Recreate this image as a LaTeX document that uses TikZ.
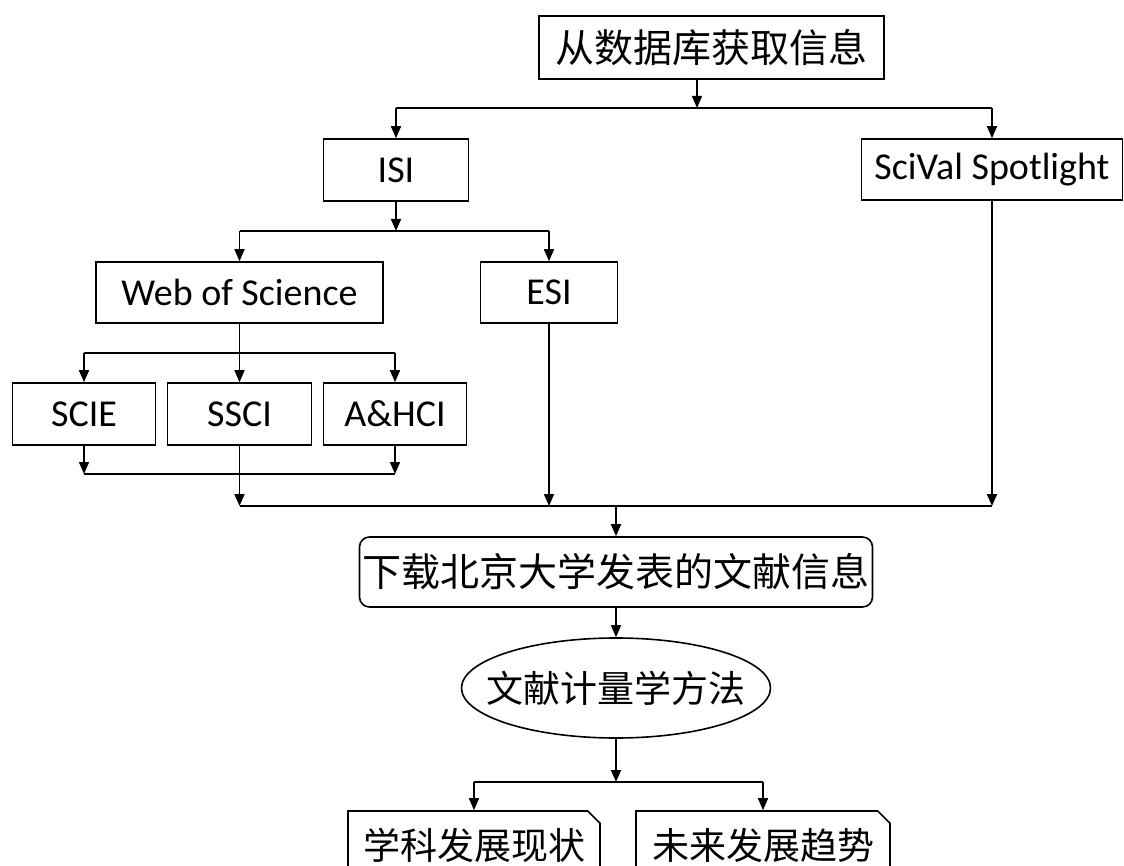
\documentclass[tikz,border=0pt]{standalone}
\usepackage{fontspec}
\setmainfont{Carlito}
\newfontfamily\cjk{Noto Sans CJK SC}
\usetikzlibrary{arrows.meta,shapes.geometric,shapes.misc,calc}
\begin{document}
\begin{tikzpicture}[x=1pt,y=-1pt,
  box/.style={draw,line width=1.6pt,inner sep=0pt,minimum height=61pt,font=\fontsize{38}{42}\selectfont},
  cbox/.style={box,font=\cjk\fontsize{39}{44}\selectfont},
  rbox/.style={cbox,rounded corners=10pt},
  ebox/.style={draw,ellipse,line width=1.6pt,inner sep=0pt,font=\cjk\fontsize{37}{42}\selectfont},
  snip/.style={draw,line width=1.6pt,chamfered rectangle,chamfered rectangle corners=north east,chamfered rectangle xsep=9pt,inner sep=0pt,font=\cjk\fontsize{37}{42}\selectfont},
  arr/.style={line width=1.6pt,-{Triangle[length=12pt,width=10pt]}},
  ln/.style={line width=1.6pt}]
\useasboundingbox (0,0) rectangle (1124,866);
\clip (0,0) rectangle (1124,866);
% nodes
\node[cbox,minimum width=345pt,minimum height=63pt] (top) at (711.5,47.5) {从数据库获取信息};
\node[box,minimum width=145pt,minimum height=62pt] (isi) at (396,170) {ISI};
\node[box,minimum width=261pt] (scival) at (992,169.5) {SciVal Spotlight};
\node[box,minimum width=287pt] (wos) at (239.5,292.5) {Web of Science};
\node[box,minimum width=137pt] (esi) at (549,292.5) {ESI};
\node[box,minimum width=143pt,minimum height=62pt] (scie) at (84,414) {SCIE};
\node[box,minimum width=144pt,minimum height=62pt] (ssci) at (239.5,414) {SSCI};
\node[box,minimum width=143pt,minimum height=62pt] (ahci) at (395,414) {A\&HCI};
\node[rbox,minimum width=513pt,minimum height=70pt] (dl) at (616,572) {下载北京大学发表的文献信息};
\node[ebox,minimum width=309pt,minimum height=100pt] (ell) at (616,688) {\makebox[0pt][c]{文献计量学方法}};
\node[snip,minimum width=252pt,minimum height=68pt] (xk) at (474,845) {学科发展现状};
\node[snip,minimum width=254pt,minimum height=68pt] (wl) at (763,845) {未来发展趋势};
% junction coordinates
\coordinate (j1) at (697,108);
\coordinate (j2) at (396,231);
\coordinate (j3) at (239.5,353);
\coordinate (j4) at (239.5,474);
\coordinate (j5) at (616,506);
\coordinate (j6) at (616,782);
% connectors
\draw[arr] (top.south -| j1) -- (j1);
\draw[ln] (isi.north |- j1) -- (scival.north |- j1);
\draw[arr] (isi.north |- j1) -- (isi.north);
\draw[arr] (scival.north |- j1) -- (scival.north);
\draw[arr] (isi.south) -- (j2);
\draw[ln] (wos.north |- j2) -- (esi.north |- j2);
\draw[arr] (wos.north |- j2) -- (wos.north);
\draw[arr] (esi.north |- j2) -- (esi.north);
\draw[arr] (wos.south) -- (ssci.north);
\draw[ln] (scie.north |- j3) -- (ahci.north |- j3);
\draw[arr] (scie.north |- j3) -- (scie.north);
\draw[arr] (ahci.north |- j3) -- (ahci.north);
\draw[arr] (scie.south) -- (scie.south |- j4);
\draw[arr] (ahci.south) -- (ahci.south |- j4);
\draw[ln] (scie.south |- j4) -- (ahci.south |- j4);
\draw[arr] (ssci.south) -- (ssci.south |- j5);
\draw[arr] (esi.south) -- (esi.south |- j5);
\draw[arr] (scival.south) -- (scival.south |- j5);
\draw[ln] (ssci.south |- j5) -- (scival.south |- j5);
\draw[arr] (j5) -- (dl.north);
\draw[arr] (dl.south) -- (ell.north);
\draw[arr] (ell.south) -- (j6);
\draw[ln] (xk.north |- j6) -- (wl.north |- j6);
\draw[arr] (xk.north |- j6) -- (xk.north);
\draw[arr] (wl.north |- j6) -- (wl.north);
\end{tikzpicture}
\end{document}
